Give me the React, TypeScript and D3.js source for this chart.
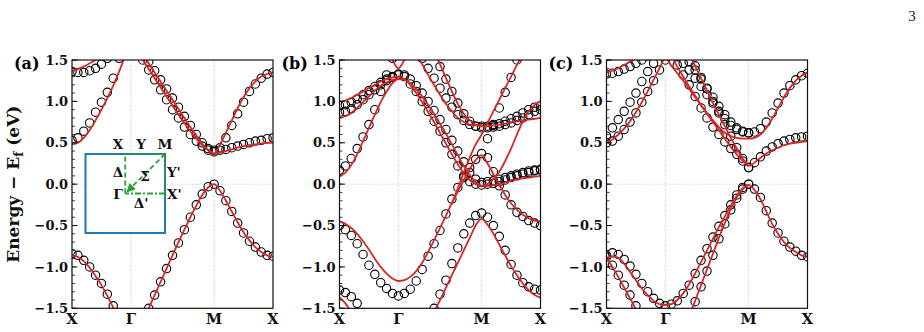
import React from "react";
import * as d3 from "d3";

const W = 924;
const H = 332;
const N = null;

// high-symmetry points along X–Γ–M–X (units of π/a)
const kNodes = [0, 1, 1 + Math.SQRT2, 2 + Math.SQRT2];
const kLabels = ["X", "Γ", "M", "X"];
const segSteps = [10, 14, 10];

const kPath: number[] = [];
segSteps.forEach((n, s) => {
  for (let j = s === 0 ? 0 : 1; j <= n; j++) {
    kPath.push(kNodes[s] + ((kNodes[s + 1] - kNodes[s]) * j) / n);
  }
});

const yMajor = [-1.5, -1.0, -0.5, 0.0, 0.5, 1.0, 1.5];
const yTickLabels = ["−1.5", "−1.0", "−0.5", "0.0", "0.5", "1.0", "1.5"];
const yMinor = d3.range(-15, 16).map(v => v / 10);

// ---- (a) DFT (circles) and model (lines), eV ----
const aDftV = [-0.84, -0.86, -0.92, -1.0, -1.1, -1.2, -1.33, -1.47, -1.62, -1.76, -1.95,
  -1.82, -1.66, -1.5, -1.34, -1.18, -1.02, -0.86, -0.71, -0.55, -0.4, -0.25, -0.12, -0.03, 0.0,
  -0.08, -0.2, -0.33, -0.47, -0.59, -0.69, -0.76, -0.82, -0.86, -0.87];
const aDftC1 = [1.36, 1.35, 1.35, 1.37, 1.4, 1.45, 1.52, 1.6, 1.68, 1.74, 1.78,
  1.62, 1.5, 1.38, 1.26, 1.14, 1.02, 0.9, 0.8, 0.69, 0.6, 0.52, 0.46, 0.41, 0.39,
  0.44, 0.56, 0.71, 0.85, 0.99, 1.12, 1.21, 1.28, 1.33, 1.35];
const aDftC2 = [0.53, 0.56, 0.64, 0.74, 0.87, 0.99, 1.11, 1.28, 1.52, 1.72, 1.85,
  1.72, 1.6, 1.48, 1.37, 1.26, 1.15, 1.04, 0.93, 0.82, 0.71, 0.6, 0.5, 0.43, 0.41,
  0.41, 0.42, 0.44, 0.46, 0.48, 0.5, 0.52, 0.53, 0.55, 0.56];
const aFitV = [-0.86, -0.88, -0.93, -1.01, -1.11, -1.22, -1.35, -1.49, -1.63, -1.77, -1.92,
  -1.8, -1.65, -1.5, -1.34, -1.18, -1.02, -0.86, -0.7, -0.55, -0.4, -0.26, -0.13, -0.04, 0.0,
  -0.08, -0.2, -0.33, -0.46, -0.58, -0.68, -0.76, -0.82, -0.86, -0.88];
const aFitC1 = [1.37, 1.39, 1.42, 1.46, 1.5, 1.55, 1.6, 1.66, 1.72, 1.77, 1.8,
  1.68, 1.57, 1.46, 1.35, 1.24, 1.13, 1.02, 0.91, 0.8, 0.69, 0.59, 0.49, 0.41, 0.37,
  0.48, 0.62, 0.77, 0.92, 1.05, 1.16, 1.24, 1.3, 1.33, 1.35];
const aFitC2 = [0.48, 0.5, 0.56, 0.65, 0.77, 0.9, 1.04, 1.19, 1.36, 1.54, 1.7,
  1.62, 1.5, 1.39, 1.28, 1.17, 1.06, 0.95, 0.84, 0.74, 0.64, 0.55, 0.47, 0.41, 0.37,
  0.38, 0.4, 0.42, 0.44, 0.46, 0.47, 0.48, 0.49, 0.5, 0.5];

// ---- (b) ----
const bDftV1 = [-1.28, -1.31, -1.36, -1.44, -1.55, -1.7, -1.85, -2.0, -2.15, -2.3, -2.4,
  -2.3, -2.18, -2.03, -1.86, -1.68, -1.5, -1.33, -1.16, -0.96, -0.77, -0.6, -0.47, -0.38, -0.35,
  -0.4, -0.5, -0.63, -0.8, -0.97, -1.1, -1.19, -1.24, -1.27, -1.28];
const bDftV2 = [-0.5, -0.55, -0.62, -0.72, -0.85, -0.98, -1.09, -1.19, -1.26, -1.32, -1.35,
  -1.32, -1.27, -1.17, -1.03, -0.87, -0.72, -0.56, -0.36, -0.18, -0.04, 0.08, 0.2, 0.3, 0.37,
  0.32, 0.15, -0.02, -0.13, -0.25, -0.34, -0.39, -0.44, -0.47, -0.5];
const bDftS = [N, N, N, N, N, N, N, N, N, N, N,
  N, N, N, N, N, N, N, N, N, N, N, N, N, N,
  0.55, 0.72, 0.92, 1.11, 1.29, 1.5, 1.7, 1.9, 2.0, 2.05];
const bDftU1 = [0.95, 0.96, 0.99, 1.03, 1.08, 1.13, 1.18, 1.23, 1.27, 1.3, 1.32,
  1.3, 1.21, 1.12, 1.0, 0.88, 0.76, 0.64, 0.5, 0.36, 0.22, 0.1, 0.03, 0.0, -0.01,
  0.0, 0.01, 0.03, 0.05, 0.08, 0.1, 0.12, 0.14, 0.16, 0.17];
const bDftU2 = [0.87, 0.88, 0.91, 0.96, 1.02, 1.08, 1.14, 1.2, 1.25, 1.29, 1.33,
  1.32, 1.27, 1.19, 1.1, 1.0, 0.89, 0.78, 0.66, 0.53, 0.4, 0.27, 0.14, 0.06, 0.02,
  0.03, 0.04, 0.06, 0.08, 0.1, 0.12, 0.14, 0.16, 0.17, 0.18];
const bDftU3 = [0.17, 0.22, 0.31, 0.43, 0.57, 0.72, 0.9, 1.12, 1.32, 1.52, 1.7,
  1.85, 1.9, 1.88, 1.8, 1.7, 1.57, 1.42, 1.27, 1.12, 0.98, 0.85, 0.76, 0.7, 0.68,
  0.68, 0.69, 0.7, 0.72, 0.74, 0.77, 0.8, 0.84, 0.88, 0.9];
const bDftU4 = [N, N, N, N, N, N, N, N, N, N, N,
  N, 1.75, 1.65, 1.52, 1.4, 1.28, 1.16, 1.04, 0.93, 0.84, 0.77, 0.72, 0.7, 0.7,
  0.7, 0.71, 0.73, 0.76, 0.79, 0.82, 0.86, 0.9, 0.93, 0.95];
const bFitV1 = [-1.37, -1.44, -1.55, -1.68, -1.82, -1.96, -2.1, -2.22, -2.32, -2.38, -2.4,
  -2.3, -2.18, -2.04, -1.88, -1.72, -1.55, -1.4, -1.25, -1.1, -0.95, -0.8, -0.65, -0.5, -0.42,
  -0.49, -0.6, -0.73, -0.86, -0.99, -1.1, -1.2, -1.28, -1.34, -1.37];
const bFitV2 = [-0.45, -0.48, -0.53, -0.6, -0.69, -0.79, -0.9, -1.0, -1.08, -1.14, -1.17,
  -1.16, -1.12, -1.05, -0.95, -0.82, -0.68, -0.53, -0.38, -0.23, -0.09, 0.05, 0.18, 0.29, 0.35,
  0.25, 0.12, -0.01, -0.13, -0.23, -0.31, -0.37, -0.41, -0.44, -0.45];
const bFitS = [N, N, N, N, N, N, N, N, N, N, N,
  N, N, N, N, N, N, N, N, -0.23, -0.05, 0.14, 0.32, 0.48, 0.6,
  0.74, 0.88, 1.02, 1.16, 1.3, 1.44, 1.58, 1.72, 1.84, 1.94];
const bFitA = [1.0, 1.01, 1.04, 1.08, 1.12, 1.16, 1.2, 1.24, 1.27, 1.29, 1.3,
  1.27, 1.2, 1.1, 0.99, 0.87, 0.75, 0.62, 0.49, 0.36, 0.24, 0.13, 0.05, 0.0, -0.02,
  0.0, 0.06, 0.15, 0.28, 0.43, 0.6, 0.76, 0.88, 0.96, 1.0];
const bFitB = [0.8, 0.82, 0.86, 0.92, 0.99, 1.06, 1.13, 1.19, 1.23, 1.26, 1.27,
  1.26, 1.22, 1.15, 1.06, 0.96, 0.85, 0.73, 0.61, 0.48, 0.35, 0.22, 0.11, 0.03, -0.02,
  -0.02, -0.01, 0.0, 0.02, 0.04, 0.06, 0.07, 0.08, 0.09, 0.1];
const bFitC = [0.1, 0.14, 0.23, 0.36, 0.52, 0.68, 0.84, 0.99, 1.12, 1.22, 1.28,
  N, N, N, N, N, N, N, N, N, N, N, N, N, N,
  N, N, N, N, N, N, N, N, N, N];
const bFitU = [2.3, 2.3, 2.28, 2.24, 2.17, 2.08, 1.97, 1.83, 1.67, 1.5, 1.4,
  1.5, 1.65, 1.75, 1.78, 1.72, 1.6, 1.45, 1.28, 1.12, 0.97, 0.85, 0.77, 0.72, 0.7,
  0.7, 0.71, 0.72, 0.73, 0.75, 0.76, 0.77, 0.78, 0.79, 0.8];
const bFitU2 = [N, N, N, N, N, N, N, N, N, N, N,
  1.85, 1.72, 1.58, 1.45, 1.32, 1.2, 1.08, 0.97, 0.88, 0.8, 0.75, 0.72, 0.71, 0.72,
  N, N, N, N, N, N, N, N, N, N];

// ---- (c) ----
const cDftV1 = [-0.86, -0.83, -0.85, -0.91, -0.99, -1.09, -1.2, -1.3, -1.38, -1.44, -1.47,
  -1.45, -1.41, -1.32, -1.22, -1.08, -0.92, -0.78, -0.64, -0.51, -0.38, -0.25, -0.13, -0.04, 0.0,
  -0.06, -0.16, -0.32, -0.47, -0.59, -0.69, -0.76, -0.81, -0.86, -0.88];
const cDftV2 = [-0.88, -0.98, -1.1, -1.22, -1.34, -1.47, -1.6, -1.73, -1.85, -1.95, -2.0,
  -1.95, -1.87, -1.75, -1.6, -1.42, -1.24, -1.05, -0.86, -0.66, -0.48, -0.31, -0.17, -0.06, 0.0,
  N, N, N, N, N, N, N, N, N, N];
const cDftA = [0.58, 0.68, 0.78, 0.88, 0.99, 1.1, 1.24, 1.36, 1.46, 1.56, 1.65,
  1.56, 1.44, 1.32, 1.2, 1.06, 0.92, 0.8, 0.69, 0.6, 0.51, 0.43, 0.36, 0.28, 0.2,
  0.26, 0.33, 0.4, 0.45, 0.49, 0.52, 0.54, 0.56, 0.57, 0.58];
const cDftB = [0.5, 0.52, 0.58, 0.66, 0.75, 0.86, 0.99, 1.12, 1.25, 1.38, 1.5,
  1.62, 1.55, 1.46, 1.38, 1.28, 1.18, 1.08, 0.98, 0.88, 0.79, 0.71, 0.66, 0.63, 0.62,
  0.63, 0.67, 0.75, 0.86, 0.98, 1.1, 1.19, 1.26, 1.31, 1.34];
const cDftC = [1.33, 1.34, 1.36, 1.39, 1.42, 1.46, 1.5, 1.55, 1.6, 1.64, 1.66,
  N, N, 1.7, 1.57, 1.43, 1.29, 1.15, 1.0, 0.86, 0.72, 0.58, 0.44, 0.31, 0.2,
  N, N, N, N, N, N, N, N, N, N];
const cDftD = [N, N, N, N, N, N, N, N, N, N, N,
  N, 1.7, 1.58, 1.48, 1.38, 1.27, 1.16, 1.05, 0.94, 0.84, 0.75, 0.68, 0.64, 0.62,
  N, N, N, N, N, N, N, N, N, N];
const cFitV1 = [-0.89, -0.87, -0.89, -0.96, -1.06, -1.16, -1.26, -1.34, -1.41, -1.45, -1.46,
  -1.45, -1.4, -1.32, -1.21, -1.08, -0.94, -0.8, -0.66, -0.52, -0.39, -0.26, -0.14, -0.05, -0.01,
  -0.07, -0.18, -0.33, -0.48, -0.6, -0.7, -0.77, -0.82, -0.86, -0.88];
const cFitV2 = [-0.89, -1.0, -1.12, -1.25, -1.38, -1.51, -1.64, -1.76, -1.87, -1.95, -1.98,
  -1.94, -1.86, -1.74, -1.59, -1.41, -1.22, -1.03, -0.84, -0.65, -0.47, -0.3, -0.16, -0.06, -0.01,
  N, N, N, N, N, N, N, N, N, N];
const cFitA = [0.5, 0.54, 0.6, 0.67, 0.76, 0.87, 0.99, 1.12, 1.26, 1.4, 1.52,
  1.43, 1.34, 1.25, 1.15, 1.05, 0.95, 0.85, 0.75, 0.65, 0.55, 0.45, 0.36, 0.28, 0.22,
  0.26, 0.32, 0.37, 0.41, 0.44, 0.47, 0.49, 0.5, 0.51, 0.52];
const cFitB = [1.35, 1.37, 1.4, 1.44, 1.48, 1.52, 1.56, 1.6, 1.63, 1.65, 1.66,
  1.55, 1.42, 1.3, 1.18, 1.07, 0.96, 0.86, 0.77, 0.69, 0.62, 0.58, 0.56, 0.55, 0.55,
  0.56, 0.6, 0.68, 0.79, 0.92, 1.05, 1.16, 1.25, 1.31, 1.35];
const cFitC = [N, N, N, N, N, N, N, N, N, N, N,
  N, N, 1.72, 1.58, 1.43, 1.28, 1.13, 0.98, 0.84, 0.7, 0.56, 0.43, 0.31, 0.22,
  N, N, N, N, N, N, N, N, N, N];

const panels = [
  { id: "a", left: 72, dft: [aDftV, aDftC1, aDftC2], fit: [aFitV, aFitC1, aFitC2], inset: true },
  { id: "b", left: 339.5, dft: [bDftV1, bDftV2, bDftS, bDftU1, bDftU2, bDftU3, bDftU4],
    fit: [bFitV1, bFitV2, bFitS, bFitA, bFitB, bFitC, bFitU, bFitU2], inset: false },
  { id: "c", left: 606.5, dft: [cDftV1, cDftV2, cDftA, cDftB, cDftC, cDftD],
    fit: [cFitV1, cFitV2, cFitA, cFitB, cFitC], inset: false },
];

const PW = 201;
const TOP = 60;
const BOTTOM = 308.3;
const FONT = "'DejaVu Serif', serif";
const RED = "#d62728";
const BLUE = "#1f77b4";
const GREEN = "#2ca02c";

// Brillouin-zone sketch: full zone is the blue square, irreducible path in green
const Inset = () => {
  const u = d3.scaleLinear().domain([-1, 1]).range([85.5, 165]);
  const v = d3.scaleLinear().domain([-1, 1]).range([233, 154]);
  const seg = (p: number[], q: number[], dash: string, marker?: boolean) => (
    <line x1={u(p[0])} y1={v(p[1])} x2={u(q[0])} y2={v(q[1])} stroke={GREEN} strokeWidth={1.8}
      strokeDasharray={dash} markerEnd={marker ? "url(#arrowG)" : undefined} />
  );
  const lbl = (t: string, x: number, y: number, anchor = "middle") => (
    <text x={x} y={y} textAnchor={anchor} fontFamily={FONT} fontWeight="bold" fontSize={13.5} fill="#111">{t}</text>
  );
  return (
    <g>
      <defs>
        <marker id="arrowG" viewBox="0 0 10 10" refX="8" refY="5" markerWidth="5" markerHeight="5" orient="auto">
          <path d="M0,0 L10,5 L0,10 z" fill={GREEN} />
        </marker>
      </defs>
      <rect x={u(-1)} y={v(1)} width={u(1) - u(-1)} height={v(-1) - v(1)} fill="white" stroke={BLUE} strokeWidth={2} />
      {seg([0, 0], [0, 1], "5,3")}
      {seg([0, 1], [1, 1], "2,2")}
      {seg([1, 1], [1, 0], "2,2")}
      {seg([1, 0], [0, 0], "6,2,2,2")}
      {seg([1, 1], [0.06, 0.06], "5,3", true)}
      {lbl("X", u(-0.18), v(1) - 5)}
      {lbl("Y", u(0.4), v(1) - 5)}
      {lbl("M", u(1), v(1) - 5)}
      {lbl("Δ", u(-0.18), v(0.55) + 5)}
      {lbl("Σ", u(0.5), v(0.45) + 5)}
      {lbl("Y'", u(1.05), v(0.55) + 5, "start")}
      {lbl("Γ", u(-0.18), v(0) + 5)}
      {lbl("X'", u(1.05), v(0) + 5, "start")}
      {lbl("Δ'", u(0.4), v(-0.25) + 5)}
    </g>
  );
};

const Panel = ({ p }: { p: typeof panels[number] }) => {
  const x = d3.scaleLinear().domain([0, kNodes[3]]).range([p.left, p.left + PW]);
  const y = d3.scaleLinear().domain([-1.5, 1.5]).range([BOTTOM, TOP]);
  const line = d3.line<number | null>()
    .defined(d => d !== null)
    .x((_, i) => x(kPath[i]))
    .y(d => y(d as number))
    .curve(d3.curveMonotoneX);
  const clip = `clip-${p.id}`;
  return (
    <g>
      <defs>
        <clipPath id={clip}>
          <rect x={p.left} y={TOP} width={PW} height={BOTTOM - TOP} />
        </clipPath>
      </defs>
      {/* dotted guides at Γ, M and the Fermi level */}
      {[kNodes[1], kNodes[2]].map((k, i) => (
        <line key={"gv" + i} x1={x(k)} x2={x(k)} y1={TOP} y2={BOTTOM} stroke="#aaa" strokeWidth={0.7} strokeDasharray="1,1.5" />
      ))}
      <line x1={p.left} x2={p.left + PW} y1={y(0)} y2={y(0)} stroke="#aaa" strokeWidth={0.7} strokeDasharray="1,1.5" />
      <g clipPath={`url(#${clip})`}>
        {p.dft.map((band, bi) =>
          band.map((e, i) =>
            e === null ? null : (
              <circle key={`c${bi}-${i}`} cx={x(kPath[i])} cy={y(e)} r={4.2} fill="none" stroke="#000" strokeWidth={1.1} />
            )
          )
        )}
        {p.fit.map((band, bi) => (
          <path key={"f" + bi} d={line(band) || ""} fill="none" stroke={RED} strokeWidth={1.8} />
        ))}
      </g>
      {p.inset && <Inset />}
      <rect x={p.left} y={TOP} width={PW} height={BOTTOM - TOP} fill="none" stroke="#111" strokeWidth={1.2} />
      {yMinor.map(t => (
        <line key={"m" + t} x1={p.left} x2={p.left + 3} y1={y(t)} y2={y(t)} stroke="#111" strokeWidth={0.8} />
      ))}
      {yMajor.map(t => (
        <line key={"M" + t} x1={p.left} x2={p.left + 5.5} y1={y(t)} y2={y(t)} stroke="#111" strokeWidth={1} />
      ))}
      {yMajor.map((t, i) => (
        <text key={"t" + t} x={p.left - 4} y={y(t)} dy="0.36em" textAnchor="end" fontFamily={FONT}
          fontWeight="bold" fontSize={13} fill="#111">{yTickLabels[i]}</text>
      ))}
      {kNodes.map((k, i) => (
        <text key={"k" + i} x={x(k)} y={324} textAnchor="middle" fontFamily={FONT} fontWeight="bold"
          fontSize={14.5} fill="#111">{kLabels[i]}</text>
      ))}
      <text x={p.left - 58} y={69} fontFamily={FONT} fontWeight="bold" fontSize={16} fill="#000">({p.id})</text>
    </g>
  );
};

export default function App() {
  return (
    <svg width={W} height={H} style={{ position: "absolute", left: 0, top: 0, background: "white" }}>
      <rect width={W} height={H} fill="white" />
      <text x={912} y={21} textAnchor="middle" fontFamily="'Liberation Serif', serif" fontSize={15} fill="#222">3</text>
      <text transform={`translate(19,${(TOP + BOTTOM) / 2}) rotate(-90)`} textAnchor="middle"
        fontFamily={FONT} fontWeight="bold" fontSize={17} fill="#111">
        Energy − E<tspan fontSize={12} dy={4}>f</tspan><tspan dy={-4}> (eV)</tspan>
      </text>
      {panels.map(p => <Panel key={p.id} p={p} />)}
    </svg>
  );
}
